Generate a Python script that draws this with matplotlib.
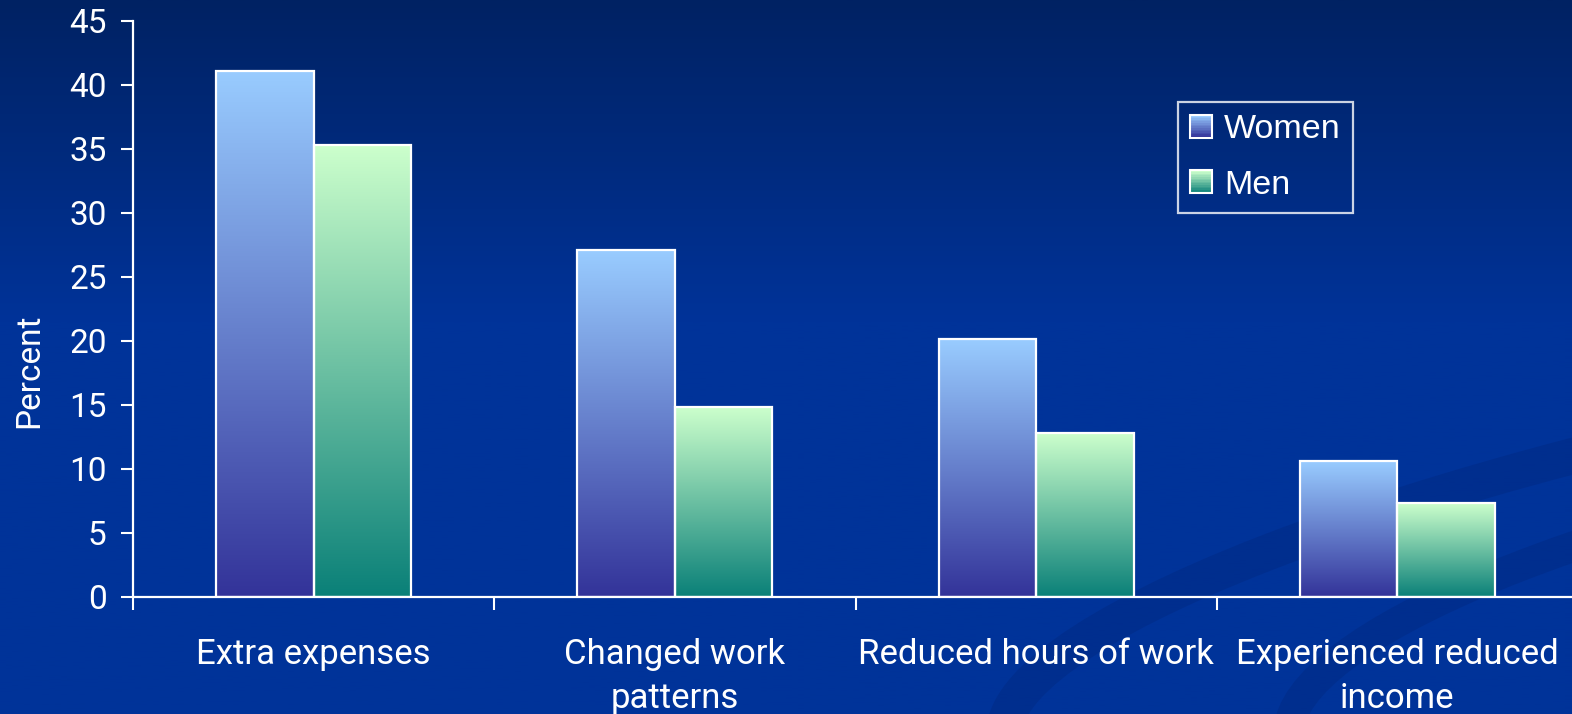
import numpy as np
import matplotlib
matplotlib.use('Agg')
import matplotlib.pyplot as plt
from matplotlib.colors import LinearSegmentedColormap
from matplotlib.patches import Rectangle, Ellipse
from matplotlib.legend_handler import HandlerBase

categories = ['Extra expenses', 'Changed work\npatterns', 'Reduced hours of work', 'Experienced reduced\nincome']
women = [41.1, 27.1, 20.1, 10.6]
men = [35.3, 14.8, 12.8, 7.3]
series_names = ['Women', 'Men']
yticks = [0, 5, 10, 15, 20, 25, 30, 35, 40, 45]

women_cols = ('#99ccff', '#333399')   # top, bottom
men_cols = ('#ccffcc', '#0a8078')


class GradientSwatch(HandlerBase):
	def __init__(self, top, bottom):
		super().__init__()
		self.cmap = LinearSegmentedColormap.from_list('sw', [bottom, top])

	def create_artists(self, legend, orig_handle, xdescent, ydescent, width, height, fontsize, trans):
		n = 14
		arts = []
		x0, y0 = -xdescent, -ydescent
		for i in range(n):
			r = Rectangle((x0, y0 + height * i / n), width, height / n + 0.3,
						  facecolor=self.cmap(i / (n - 1)), edgecolor='none', transform=trans)
			arts.append(r)
		arts.append(Rectangle((x0, y0), width, height, facecolor='none', edgecolor='white', lw=1.5, transform=trans))
		return arts


fig = plt.figure(figsize=(15.72, 7.14), dpi=100)
fig.patch.set_facecolor('#003399')

# background: dark top fading into royal blue, plus faint swooshes
bg = fig.add_axes([0, 0, 1, 1], zorder=-5)
bgrad = np.linspace(0, 1, 256).reshape(-1, 1)
bgcmap = LinearSegmentedColormap.from_list('bg', [(0, '#002263'), (0.45, '#003399'), (1, '#003399')])
bg.imshow(bgrad, cmap=bgcmap, aspect='auto', extent=[0, 1572, 714, 0])
bg.add_patch(Ellipse((1975, 569), 1970, 392, angle=-10, fill=False, lw=26, ec='#00206e', alpha=0.25))
bg.add_patch(Ellipse((1979, 618), 1400, 338, angle=-10, fill=False, lw=22, ec='#00206e', alpha=0.25))
bg.set_xlim(0, 1572)
bg.set_ylim(714, 0)
bg.axis('off')

ax = fig.add_axes([133 / 1572, 0.1643, 1445 / 1572, 0.8067])
ax.set_facecolor('none')

x = np.arange(len(categories))
w = 0.27
for vals, cols, name, off in [(women, women_cols, 'Women', -w / 2), (men, men_cols, 'Men', w / 2)]:
	cmap = LinearSegmentedColormap.from_list(name, [cols[1], cols[0]])
	bars = ax.bar(x + off, vals, width=w, facecolor='none', edgecolor='white', linewidth=1.6, zorder=3, label=name)
	for b in bars:
		x0, h = b.get_x(), b.get_height()
		im = ax.imshow(np.linspace(0, 1, 256).reshape(-1, 1), cmap=cmap, aspect='auto', origin='lower',
					   extent=[x0, x0 + b.get_width(), 0, h], zorder=2, interpolation='bilinear')
		im.set_clip_path(b)

ax.set_xlim(-0.5, 3.5)
ax.set_ylim(0, 45)
ax.set_yticks(yticks)
ax.set_xticks(x)
ax.set_xticklabels(categories, fontsize=25, color='white', family='Roboto', linespacing=1.4)
ax.set_xticks(np.arange(len(categories)) - 0.5, minor=True)
ax.tick_params(axis='x', which='major', length=0, pad=30)
ax.tick_params(axis='x', which='minor', length=9, width=1.5, color='white', direction='out')
ax.tick_params(axis='y', length=9, width=1.5, color='white', labelcolor='white', labelsize=24, pad=10)
for lab in ax.get_yticklabels():
	lab.set_family('Roboto')
for s in ['top', 'right']:
	ax.spines[s].set_visible(False)
for s in ['left', 'bottom']:
	ax.spines[s].set_color('white')
	ax.spines[s].set_linewidth(1.6)

fig.text(29 / 1572, 1 - 371 / 714, 'Percent', rotation=90, ha='center', va='center',
		 color='white', fontsize=24, family='Roboto')

handles, labels = ax.get_legend_handles_labels()
leg = ax.legend(handles, series_names, loc='upper left', bbox_to_anchor=(1178 / 1572, 1 - 102 / 714),
				bbox_transform=fig.transFigure, frameon=True, fancybox=False,
				prop={'family': 'Liberation Sans', 'size': 24.5}, labelcolor='white',
				handlelength=0.65, handleheight=0.65, handletextpad=0.35, borderpad=0.36,
				labelspacing=0.72, borderaxespad=0,
				handler_map={handles[0]: GradientSwatch(*women_cols), handles[1]: GradientSwatch(*men_cols)})
leg.get_frame().set_facecolor('none')
leg.get_frame().set_edgecolor('white')
leg.get_frame().set_linewidth(1.6)

fig.savefig('out.png', dpi=100, facecolor=fig.get_facecolor())
